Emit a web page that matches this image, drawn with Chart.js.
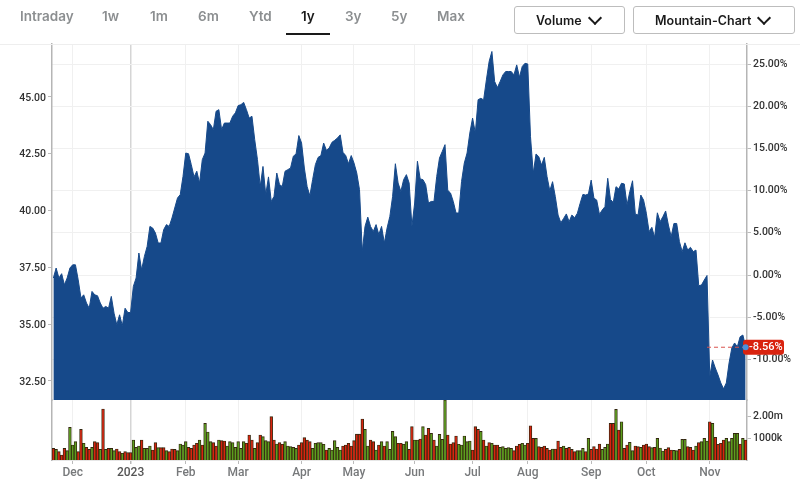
<!DOCTYPE html>
<html>
<head>
<meta charset="utf-8">
<script src="https://cdn.jsdelivr.net/npm/chart.js@4"></script>
<style>
html, body { margin: 0; padding: 0; background: #fff; }
body { width: 800px; height: 488px; position: relative; overflow: hidden; font-family: Inter, sans-serif; }
canvas { position: absolute; left: 0; top: 0; }
.tab { position: absolute; top: 7px; font-size: 13.5px; font-weight: 600; color: #8c8f91; line-height: 18px; }
.tab.on { color: #1a1a1a; }
#underline { position: absolute; left: 286px; top: 33px; width: 44px; height: 2px; background: #1a1a1a; }
#headLine { position: absolute; left: 0; top: 44px; width: 800px; height: 1px; background: #eee; }
.btn { position: absolute; top: 6px; height: 28px; box-sizing: border-box; border: 1px solid #bdbdbd; border-radius: 3px; font-size: 12.5px; font-weight: 600; color: #1a1a1a; line-height: 27px; white-space: nowrap; }
.btn span { position: absolute; top: 0; }
.btn i { position: absolute; top: 6px; width: 8px; height: 8px; border-right: 2.5px solid #1a1a1a; border-bottom: 2.5px solid #1a1a1a; transform: rotate(45deg); }
</style>
</head>
<body>
<canvas id="myChart" width="800" height="488"></canvas>
<div id="headLine"></div>
<div class="tab" style="left:20px">Intraday</div>
<div class="tab" style="left:102px">1w</div>
<div class="tab" style="left:150px">1m</div>
<div class="tab" style="left:198px">6m</div>
<div class="tab" style="left:249px">Ytd</div>
<div class="tab on" style="left:301px">1y</div>
<div class="tab" style="left:345px">3y</div>
<div class="tab" style="left:391px">5y</div>
<div class="tab" style="left:437px">Max</div>
<div id="underline"></div>
<div class="btn" style="left:514px;width:111px"><span style="left:21px">Volume</span><i style="left:75px"></i></div>
<div class="btn" style="left:633px;width:162px"><span style="left:21px">Mountain-Chart</span><i style="left:125px"></i></div>
<script>
const prices = [
	37.03, 37.47, 37.03, 37.22, 36.73, 37.03, 37.47, 37.61, 37.61, 36.95,
	36.15, 36.29, 35.93, 35.70, 36.44, 36.29, 36.25, 35.93, 35.70, 35.78,
	35.70, 36.22, 35.48, 34.97, 35.41, 34.93, 35.70, 35.51, 35.51, 36.66,
	37.03, 38.13, 37.39, 37.98, 38.42, 39.30, 39.23, 39.01, 38.57, 38.57,
	39.16, 39.38, 39.30, 39.67, 40.11, 40.55, 40.70, 41.50, 42.53, 42.50,
	42.02, 41.48, 41.73, 41.21, 42.24, 42.53, 43.93, 43.78, 43.56, 44.37,
	44.44, 43.56, 43.85, 43.85, 43.85, 44.15, 44.30, 44.62, 44.66, 44.76,
	44.44, 44.07, 44.15, 43.12, 42.24, 41.06, 41.94, 40.70, 41.48, 40.40,
	40.62, 41.65, 41.14, 41.06, 41.73, 41.80, 41.87, 42.39, 42.49, 43.30,
	42.97, 41.87, 41.06, 40.65, 41.36, 42.02, 42.34, 42.42, 42.97, 42.65,
	42.75, 43.00, 43.09, 43.19, 43.33, 42.56, 42.42, 42.06, 42.42, 42.09,
	41.65, 40.92, 38.20, 39.30, 39.71, 39.30, 39.08, 39.38, 38.94, 39.30,
	38.57, 39.23, 39.74, 40.62, 42.06, 41.21, 40.84, 41.36, 41.58, 41.21,
	39.30, 40.33, 42.17, 41.39, 41.36, 41.14, 40.33, 40.40, 40.40, 41.50,
	42.31, 42.60, 42.90, 40.89, 40.77, 40.40, 39.89, 39.89, 41.28, 42.09,
	42.53, 43.41, 44.07, 43.41, 44.88, 44.94, 44.87, 45.75, 46.56, 47.00,
	45.68, 45.41, 45.68, 45.97, 46.12, 46.12, 46.12, 45.97, 46.41, 45.87,
	46.34, 46.48, 46.45, 43.25, 41.64, 42.49, 42.37, 42.00, 42.34, 41.49,
	40.87, 41.27, 40.61, 39.80, 39.46, 39.65, 39.85, 39.51, 39.80, 39.68,
	39.88, 40.32, 40.71, 40.68, 40.73, 41.34, 40.54, 40.46, 39.83, 40.02,
	40.17, 41.42, 40.49, 40.35, 41.05, 40.95, 41.20, 41.17, 40.24, 40.83,
	41.31, 39.85, 39.80, 40.68, 40.46, 39.88, 39.07, 39.26, 38.82, 39.90,
	39.51, 39.73, 39.98, 39.36, 38.85, 39.43, 39.43, 38.63, 38.19, 38.58,
	38.26, 38.38, 38.19, 38.26, 36.69, 36.72, 36.94, 37.14, 32.69, 33.42,
	33.07, 32.76, 32.41, 32.15, 32.41, 33.29, 33.95, 34.17, 34.00, 34.44,
	34.52, 34.01
];
// thousands of shares
const volumes = [
	530, 485, 380, 225, 530, 425, 1485, 680, 835, 380,
	1395, 760, 575, 485, 575, 835, 790, 485, 2320, 485,
	530, 530, 425, 500, 380, 305, 380, 335, 335, 910,
	575, 635, 910, 530, 530, 635, 455, 790, 560, 560,
	560, 425, 380, 500, 485, 425, 730, 680, 835, 575,
	530, 680, 760, 910, 680, 1665, 1275, 835, 790, 635,
	910, 880, 865, 635, 835, 790, 575, 835, 530, 835,
	760, 1135, 910, 530, 790, 1135, 1060, 880, 835, 1970,
	910, 730, 790, 715, 835, 635, 605, 575, 530, 680,
	790, 1015, 910, 835, 530, 760, 790, 790, 715, 455,
	530, 455, 880, 575, 455, 635, 680, 760, 635, 880,
	1180, 1180, 1865, 1395, 635, 910, 835, 455, 680, 835,
	635, 835, 485, 1300, 1060, 760, 760, 715, 835, 485,
	1515, 910, 910, 955, 1515, 1135, 1440, 1210, 910, 635,
	1165, 940, 2730, 1135, 730, 790, 1090, 715, 680, 1090,
	835, 865, 455, 1515, 1395, 1300, 910, 635, 790, 760,
	680, 680, 575, 605, 530, 560, 530, 425, 635, 715,
	760, 680, 760, 1560, 985, 985, 605, 575, 635, 530,
	455, 500, 500, 865, 575, 635, 530, 575, 485, 380,
	425, 425, 530, 380, 985, 485, 605, 500, 730, 485,
	575, 730, 1665, 1665, 2305, 1365, 1740, 530, 680, 805,
	425, 635, 605, 575, 680, 730, 605, 560, 575, 985,
	545, 410, 485, 560, 455, 440, 425, 485, 940, 940,
	605, 575, 455, 635, 790, 835, 985, 865, 1740, 1665,
	1030, 715, 760, 910, 985, 835, 985, 1210, 1210, 730,
	985, 910
];
// 1 = up day, 0 = down day
const volumeUp = [
	0, 1, 0, 0, 0, 1, 1, 1, 1, 0,
	0, 1, 0, 0, 1, 0, 0, 1, 0, 1,
	0, 1, 1, 0, 0, 1, 0, 0, 0, 1,
	1, 1, 0, 1, 1, 1, 0, 0, 1, 0,
	0, 1, 0, 0, 0, 1, 1, 1, 1, 0,
	0, 0, 0, 1, 0, 1, 1, 1, 0, 0,
	1, 0, 0, 1, 1, 1, 1, 1, 1, 1,
	0, 0, 0, 1, 0, 0, 1, 1, 1, 0,
	0, 1, 0, 0, 1, 1, 1, 1, 1, 0,
	0, 0, 0, 0, 1, 1, 1, 1, 1, 0,
	1, 1, 1, 1, 1, 0, 0, 0, 0, 0,
	0, 0, 0, 1, 1, 0, 0, 1, 0, 1,
	0, 1, 1, 1, 1, 0, 0, 1, 1, 0,
	0, 1, 1, 0, 1, 0, 0, 1, 0, 1,
	1, 1, 1, 0, 0, 0, 0, 1, 1, 1,
	1, 1, 0, 0, 0, 1, 0, 1, 0, 1,
	0, 0, 1, 1, 1, 1, 1, 0, 0, 0,
	1, 1, 0, 0, 0, 1, 0, 0, 0, 0,
	0, 1, 0, 0, 0, 1, 0, 0, 0, 0,
	1, 1, 1, 0, 1, 0, 0, 0, 0, 1,
	1, 1, 0, 0, 1, 0, 1, 0, 0, 1,
	1, 0, 0, 1, 0, 0, 0, 1, 0, 1,
	1, 1, 0, 0, 0, 1, 1, 0, 1, 1,
	0, 0, 0, 1, 0, 1, 1, 1, 0, 1,
	0, 0, 0, 0, 1, 1, 1, 1, 1, 0,
	1, 0
];
const days = prices.map((p, i) => i);
const monthLabels = ['Dec', '2023', 'Feb', 'Mar', 'Apr', 'May', 'Jun', 'Jul', 'Aug', 'Sep', 'Oct', 'Nov'];
const monthIndex = [7, 28, 48, 67, 90, 109, 131, 152, 172, 195, 215, 238];
const priceTicks = [32.5, 35, 37.5, 40, 42.5, 45];
const percentTicks = [-10, -5, 0, 5, 10, 15, 20, 25];
const volumeTicks = [1000, 2000];
const lastPercent = -8.56;

const blue = '#16498a';
const leftWidth = 52;
const rightWidth = 53;
const axisLine = '#b5b5b5';
const tickFont = { family: 'Roboto', size: 10.5, weight: '500' };

function fixedTicks(list) {
	return function (scale) {
		scale.ticks = list.map(v => ({ value: v }));
	};
}

// dashed line, dot and red tag for the last value
const lastValuePlugin = {
	id: 'lastValue',
	afterDraw(chart) {
		const c = chart.ctx;
		const y = chart.scales.pct.getPixelForValue(lastPercent);
		const right = chart.chartArea.right;
		const dotX = chart.scales.x.getPixelForValue(days.length - 1);
		c.save();
		c.strokeStyle = '#d9534f';
		c.lineWidth = 1;
		c.setLineDash([4, 3]);
		c.beginPath();
		c.moveTo(chart.scales.x.getPixelForValue(237), y);
		c.lineTo(dotX, y);
		c.stroke();
		c.setLineDash([]);
		c.fillStyle = '#d9230f';
		c.beginPath();
		c.roundRect(right - 4, y - 7.5, 41, 15, 3);
		c.fill();
		c.fillStyle = '#4a90d9';
		c.beginPath();
		c.arc(dotX, y, 3, 0, Math.PI * 2);
		c.fill();
		c.fillStyle = '#fff';
		c.font = '500 11px Roboto';
		c.textAlign = 'left';
		c.textBaseline = 'middle';
		c.fillText(lastPercent.toFixed(2) + '%', right + 2, y + 0.5);
		c.restore();
	}
};

new Chart(document.getElementById('myChart'), {
	data: {
		labels: days,
		datasets: [
			{
				type: 'line',
				data: prices,
				xAxisID: 'x',
				yAxisID: 'price',
				backgroundColor: blue,
				borderColor: blue,
				borderWidth: 1,
				pointRadius: 0,
				tension: 0,
				fill: 'start'
			},
			{
				type: 'bar',
				data: volumes,
				xAxisID: 'x',
				yAxisID: 'vol',
				backgroundColor: volumeUp.map(u => u ? '#5c9e1e' : '#d8240f'),
				borderColor: '#33270f',
				borderWidth: 0.9,
				categoryPercentage: 1,
				barPercentage: 1
			}
		]
	},
	options: {
		responsive: false,
		animation: false,
		layout: { padding: { top: 44 } },
		plugins: { legend: { display: false }, tooltip: { enabled: false } },
		scales: {
			x: {
				type: 'category',
				afterFit(s) { s.height = 28; },
				afterBuildTicks(s) { s.ticks = monthIndex.map(v => ({ value: v })); },
				border: { color: '#e6e6e6' },
				grid: {
					offset: false,
					tickLength: 4,
					lineWidth: c => (c.tick && c.tick.value === 28) ? 1.5 : 1,
					color: c => (c.tick && c.tick.value === 28) ? '#d5d5d5' : '#f0f0f0',
					tickColor: '#bbb'
				},
				ticks: {
					autoSkip: false,
					maxRotation: 0,
					padding: 2,
					color: c => c.tick.value === 28 ? '#555' : '#77797b',
					font: { family: 'Roboto', size: 12, weight: '500' },
					callback: v => monthLabels[monthIndex.indexOf(v)]
				}
			},
			price: {
				type: 'linear',
				position: 'left',
				stack: 'left',
				stackWeight: 356,
				weight: 2,
				min: 31.66,
				max: 47.33,
				afterFit(s) { s.width = leftWidth; },
				afterBuildTicks: fixedTicks(priceTicks),
				border: { color: axisLine, width: 1.5 },
				grid: { drawOnChartArea: false, tickLength: 4, tickColor: '#bbb' },
				ticks: {
					autoSkip: false,
					padding: 2,
					labelOffset: 1,
					color: '#333',
					font: tickFont,
					callback: v => v.toFixed(2)
				}
			},
			leftPad: {
				type: 'linear',
				position: 'left',
				stack: 'left',
				stackWeight: 60,
				weight: 1,
				min: 0,
				max: 1,
				afterFit(s) { s.width = leftWidth; },
				border: { color: axisLine, width: 1.5 },
				grid: { display: false },
				ticks: { display: false }
			},
			pct: {
				type: 'linear',
				position: 'right',
				stack: 'right',
				stackWeight: 356,
				weight: 1,
				min: -14.81,
				max: 27.37,
				afterFit(s) { s.width = rightWidth; },
				afterBuildTicks: fixedTicks(percentTicks),
				border: { color: axisLine, width: 1.5 },
				grid: { color: '#f0f0f0', tickLength: 4, tickColor: '#bbb' },
				ticks: {
					autoSkip: false,
					padding: 2,
					color: '#333',
					font: tickFont,
					callback: v => v.toFixed(2) + '%'
				}
			},
			vol: {
				type: 'linear',
				position: 'right',
				stack: 'right',
				stackWeight: 60,
				weight: 2,
				min: 0,
				max: 2730,
				afterFit(s) { s.width = rightWidth; },
				afterBuildTicks: fixedTicks(volumeTicks),
				border: { color: axisLine, width: 1.5 },
				grid: { drawOnChartArea: false, tickLength: 4, tickColor: '#bbb' },
				ticks: {
					autoSkip: false,
					padding: 2,
					color: '#333',
					font: tickFont,
					callback: v => v >= 2000 ? (v / 1000).toFixed(2) + 'm' : v + 'k'
				}
			}
		}
	},
	plugins: [lastValuePlugin]
});
</script>
</body>
</html>
